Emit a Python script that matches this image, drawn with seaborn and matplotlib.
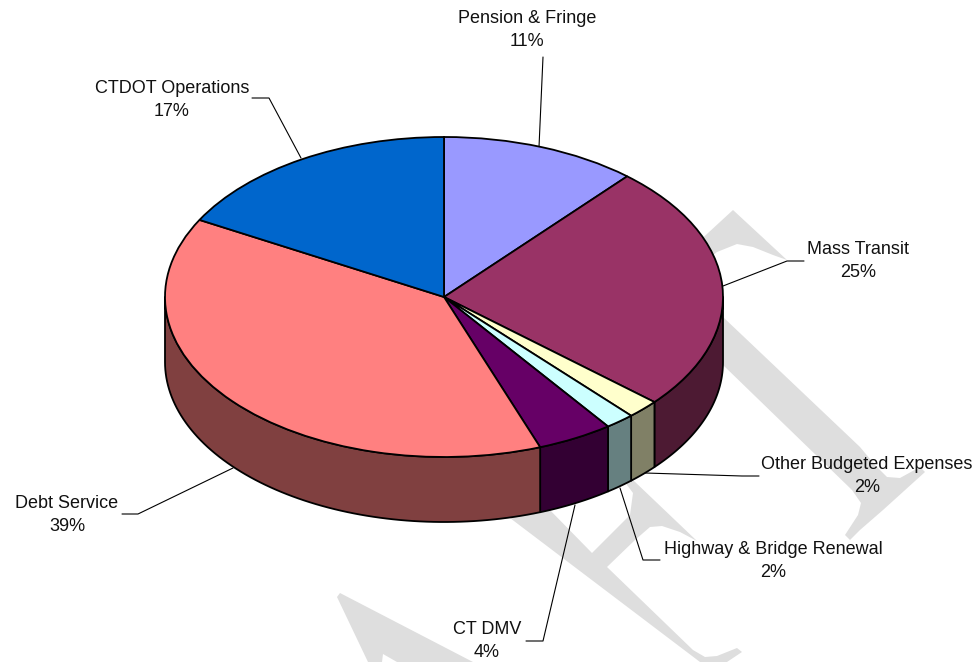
import numpy as np
import seaborn as sns
from matplotlib import pyplot as plt

## budget slices, clockwise from 12 o'clock
labels = ['Pension & Fringe', 'Mass Transit', 'Other Budgeted Expenses', 'Highway & Bridge Renewal',
          'CT DMV', 'Debt Service', 'CTDOT Operations']
shares = [11.4, 25.0, 1.9, 1.7, 4.4, 38.6, 17.0]
top_colors = ['#9999FF', '#993366', '#FFFFCC', '#CCFFFF', '#660066', '#FF8080', '#0066CC']
side_colors = ['#4D4D80', '#4D1A33', '#808066', '#668080', '#330033', '#804040', '#003366']

## label centres and leader lines, in picture pixels
label_pos = [(527, 30), (858, 261), (867, 476), (773, 561), (487, 641), (67, 515), (172, 100)]
leaders = [[(539, 147), (543, 57)],
           [(723, 286), (787, 261), (804, 261)],
           [(645, 473), (742, 476), (759, 476)],
           [(620, 488), (643, 560), (660, 560)],
           [(575, 505), (543, 641), (526, 641)],
           [(233, 468), (138, 514), (122, 514)],
           [(301, 158), (269, 98), (252, 98)]]

## the grey watermark shapes behind the pie
mark_a = [(337, 597), (340, 593), (473, 662), (397, 662), (383, 654), (382, 662), (368, 662)]
mark_b = [(480, 495), (510, 518), (700, 662), (727, 662), (742, 652), (737, 648), (717, 656), (705, 657),
          (693, 650), (607, 567), (635, 540), (650, 527), (662, 526), (680, 532), (697, 541), (633, 480),
          (620, 470), (627, 485), (633, 493), (630, 515), (592, 553), (545, 505), (500, 480)]
mark_c = [(695, 245), (733, 210), (787, 260), (773, 255), (753, 247), (737, 244), (717, 252), (700, 265)]
mark_d = [(700, 340), (723, 317), (860, 447), (875, 465), (887, 477), (900, 478), (920, 467), (925, 472),
          (883, 510), (860, 530), (850, 540), (845, 535), (858, 515), (861, 503), (852, 490), (723, 365),
          (710, 350)]

## pie shape in pixels
cx, cy = 444, 297
rx, ry = 279, 160
depth = 65 / ry

sns.set_theme(style='white')
plt.rcParams['font.family'] = ['Liberation Sans', 'DejaVu Sans']

fig = plt.figure(figsize=(9.78, 6.62), dpi=100, facecolor='white')

back = fig.add_axes([0, 0, 1, 1], zorder=0)  ##pixel axes for watermark, leaders and labels
back.set_xlim(0, 978)
back.set_ylim(662, 0)
back.axis('off')

for mark in [mark_a, mark_b, mark_c, mark_d]:
    xs, ys = zip(*mark)
    back.fill(xs, ys, color='#DEDEDE', lw=0, zorder=1)

for line in leaders:
    xs, ys = zip(*line)
    back.plot(xs, ys, color='black', lw=0.8, zorder=2)

for name, share, pos in zip(labels, shares, label_pos):
    back.text(pos[0], pos[1], f'{name}\n{share:.0f}%', ha='center', va='center', fontsize=13,
              color='#111111', linespacing=1.45, zorder=3)

ax = fig.add_axes([0, 0, 1, 1], zorder=1)  ##pie axes, one unit is one radius
ax.patch.set_alpha(0)

## side wall first, only the front half of the disc shows
start = 0
for share, col in zip(shares, sns.color_palette(side_colors)):
    a0, a1 = start, start + share * 3.6
    start = a1
    lo, hi = max(a0, 90), min(a1, 270)
    if lo >= hi:
        continue
    t = np.radians(np.linspace(lo, hi, 80))
    x = np.sin(t)
    y = np.cos(t)
    ax.fill(np.r_[x, x[::-1]], np.r_[y, y[::-1] - depth], facecolor=col, edgecolor='black', lw=1.3,
            joinstyle='round', zorder=1)

ax.pie(shares, colors=sns.color_palette(top_colors), startangle=90, counterclock=False, radius=1,
       wedgeprops={'edgecolor': 'black', 'linewidth': 1.3, 'zorder': 2})

ax.set_aspect('auto')
ax.set_xlim(-cx / rx, (978 - cx) / rx)
ax.set_ylim((cy - 662) / ry, cy / ry)
ax.axis('off')

plt.savefig('out.png', dpi=100)
